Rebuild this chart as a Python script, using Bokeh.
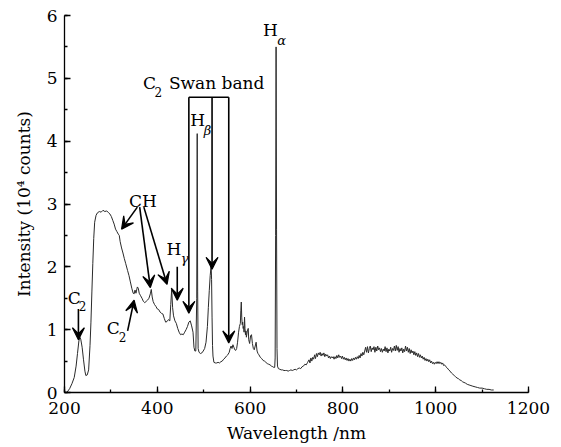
from bokeh.plotting import figure
from bokeh.models import Arrow, VeeHead, ColumnDataSource, SingleIntervalTicker
from bokeh.core.properties import value
from bokeh.embed import file_html
from bokeh.resources import INLINE

FONT = "DejaVu Serif"

# ---- spectrum data (wavelength nm, intensity 1e4 counts) ----
wavelength = [
    205, 211, 216, 221, 225, 228, 231, 233, 235, 238, 241, 244, 246, 249, 252, 255, 257, 259, 261, 263,
    265, 268, 271, 275, 279, 283, 287, 291, 295, 298, 301, 304, 307, 310, 313, 316, 318, 320, 323, 326,
    329, 332, 336, 339, 342, 345, 348, 350, 352, 354, 357, 359, 361, 364, 367, 370, 373, 376, 379, 382,
    385, 387, 389, 391, 394, 397, 400, 403, 406, 409, 412, 415, 418, 421, 424, 427, 429, 431, 433, 435,
    438, 441, 444, 447, 450, 453, 456, 459, 462, 465, 468, 471, 474, 477, 479, 481, 483, 485, 486, 487,
    488, 490, 493, 496, 499, 502, 505, 508, 510, 512, 514, 516, 517, 518, 519, 520, 522, 525, 528, 531,
    534, 537, 540, 543, 546, 549, 552, 555, 557, 559, 561, 563, 565, 567, 569, 571, 573, 575, 577, 579,
    580, 581, 582, 583, 584, 585, 586, 587, 588, 589, 590, 591, 592, 594, 596, 597, 599, 601, 603, 605,
    607, 609, 611, 613, 615, 617, 619, 622, 625, 628, 631, 634, 637, 640, 643, 646, 649, 651, 653, 654,
    655, 656, 657, 658, 659, 661, 664, 667, 670, 673, 676, 679, 682, 685, 688, 691, 694, 697, 700, 703,
    706, 709, 712, 715, 718, 721, 724, 727, 729, 731, 733, 735, 737, 739, 741, 743, 745, 747, 749, 751,
    753, 755, 757, 759, 761, 763, 765, 767, 769, 771, 773, 775, 777, 779, 781, 783, 785, 787, 789, 791,
    793, 795, 797, 799, 801, 803, 805, 807, 809, 811, 813, 815, 817, 819, 821, 823, 825, 827, 829, 831,
    833, 835, 837, 839, 841, 843, 845, 847, 849, 851, 853, 855, 857, 859, 861, 863, 865, 867, 869, 871,
    873, 875, 877, 879, 881, 883, 885, 887, 889, 891, 893, 895, 897, 899, 901, 903, 905, 907, 909, 911,
    913, 915, 917, 919, 921, 923, 925, 927, 929, 931, 933, 935, 937, 939, 941, 943, 945, 947, 949, 951,
    953, 955, 957, 959, 961, 963, 965, 967, 969, 971, 973, 975, 977, 979, 981, 983, 985, 987, 989, 991,
    993, 995, 997, 999, 1001, 1003, 1005, 1007, 1009, 1011, 1013, 1015, 1017, 1019, 1022, 1025, 1028, 1031, 1034, 1037,
    1040, 1043, 1046, 1049, 1052, 1055, 1058, 1061, 1064, 1068, 1072, 1076, 1080, 1085, 1090, 1095, 1100, 1105, 1110, 1115,
    1120, 1125,
]
intensity = [
    0.00, 0.06, 0.14, 0.24, 0.42, 0.62, 0.82, 0.88, 0.85, 0.72, 0.52, 0.34, 0.27, 0.28, 0.36, 0.75, 1.12, 1.60, 2.05, 2.45,
    2.71, 2.82, 2.86, 2.88, 2.87, 2.90, 2.88, 2.89, 2.86, 2.84, 2.80, 2.74, 2.68, 2.60, 2.56, 2.52, 2.50, 2.40, 2.30, 2.22,
    2.13, 2.05, 1.94, 1.86, 1.76, 1.66, 1.58, 1.57, 1.63, 1.58, 1.68, 1.66, 1.58, 1.54, 1.50, 1.45, 1.43, 1.45, 1.47, 1.50,
    1.57, 1.64, 1.52, 1.45, 1.40, 1.37, 1.33, 1.32, 1.28, 1.26, 1.25, 1.18, 1.12, 1.13, 1.16, 1.14, 1.40, 1.64, 1.35, 1.22,
    1.14, 1.10, 1.02, 0.96, 0.92, 0.93, 0.92, 0.96, 1.00, 1.05, 1.12, 1.14, 1.06, 0.96, 0.72, 0.66, 0.66, 1.50, 4.12, 1.60,
    0.70, 0.64, 0.62, 0.63, 0.66, 0.70, 0.80, 1.05, 1.35, 1.62, 1.86, 2.02, 1.80, 1.20, 0.75, 0.58, 0.48, 0.47, 0.47, 0.48,
    0.47, 0.49, 0.50, 0.53, 0.55, 0.58, 0.60, 0.64, 0.70, 0.74, 0.70, 0.76, 0.72, 0.68, 0.67, 0.70, 0.80, 0.95, 1.05, 1.10,
    1.30, 1.44, 1.20, 1.08, 1.12, 1.02, 1.05, 0.96, 1.20, 1.02, 0.92, 0.98, 0.88, 0.98, 1.02, 0.84, 0.78, 0.90, 0.92, 0.78,
    0.70, 0.68, 0.74, 0.80, 0.66, 0.62, 0.60, 0.56, 0.54, 0.51, 0.50, 0.48, 0.46, 0.45, 0.44, 0.42, 0.41, 0.40, 0.40, 0.55,
    2.50, 5.50, 2.60, 0.70, 0.42, 0.38, 0.37, 0.36, 0.36, 0.35, 0.35, 0.35, 0.34, 0.35, 0.36, 0.35, 0.36, 0.37, 0.36, 0.38,
    0.39, 0.38, 0.41, 0.42, 0.45, 0.44, 0.48, 0.52, 0.47, 0.55, 0.50, 0.56, 0.53, 0.60, 0.54, 0.62, 0.57, 0.63, 0.60, 0.64,
    0.58, 0.62, 0.59, 0.63, 0.57, 0.61, 0.58, 0.60, 0.55, 0.58, 0.54, 0.57, 0.55, 0.57, 0.53, 0.57, 0.54, 0.59, 0.55, 0.60,
    0.56, 0.58, 0.54, 0.58, 0.53, 0.56, 0.52, 0.55, 0.51, 0.54, 0.50, 0.53, 0.50, 0.54, 0.51, 0.55, 0.52, 0.56, 0.53, 0.57,
    0.54, 0.59, 0.55, 0.62, 0.58, 0.64, 0.60, 0.66, 0.72, 0.64, 0.73, 0.63, 0.70, 0.74, 0.65, 0.71, 0.68, 0.73, 0.64, 0.72,
    0.66, 0.74, 0.68, 0.71, 0.65, 0.70, 0.64, 0.69, 0.66, 0.73, 0.65, 0.71, 0.63, 0.69, 0.66, 0.72, 0.64, 0.70, 0.67, 0.74,
    0.66, 0.75, 0.67, 0.73, 0.64, 0.70, 0.66, 0.71, 0.63, 0.69, 0.65, 0.74, 0.66, 0.72, 0.64, 0.70, 0.62, 0.68, 0.63, 0.66,
    0.60, 0.65, 0.59, 0.63, 0.57, 0.62, 0.56, 0.60, 0.55, 0.58, 0.53, 0.56, 0.51, 0.54, 0.50, 0.53, 0.49, 0.52, 0.47, 0.50,
    0.46, 0.48, 0.45, 0.48, 0.46, 0.49, 0.46, 0.49, 0.46, 0.48, 0.45, 0.47, 0.43, 0.44, 0.41, 0.39, 0.36, 0.34, 0.31, 0.29,
    0.27, 0.25, 0.23, 0.22, 0.20, 0.19, 0.17, 0.16, 0.15, 0.13, 0.12, 0.11, 0.10, 0.09, 0.08, 0.07, 0.07, 0.06, 0.05, 0.05,
    0.04, 0.04,
]

# ---- annotation data ----
arrow_x0 = [230, 357, 362, 371, 336, 443, 468, 518, 554]
arrow_y0 = [1.33, 2.95, 2.95, 2.95, 0.98, 2.00, 4.70, 4.70, 4.70]
arrow_x1 = [230, 323, 385, 421, 350, 443, 468, 518, 554]
arrow_y1 = [0.84, 2.60, 1.67, 1.72, 1.47, 1.47, 1.26, 1.96, 0.79]

bracket_x = [468, 554]
bracket_y = [4.70, 4.70]

label_text = ["C", "C", "CH", "H", "H", "H", "C"]
label_x = [221, 305, 369, 436, 487, 644, 383]
label_y = [1.50, 1.02, 3.05, 2.29, 4.34, 5.77, 4.93]

digit_sub_text = ["2", "2", "2"]
digit_sub_x = [239, 325, 402]
digit_sub_y = [1.38, 0.88, 4.79]

greek_sub_text = ["γ", "β", "α"]
greek_sub_x = [459, 508, 668]
greek_sub_y = [2.14, 4.17, 5.61]

band_text = ["Swan band"]
band_x = [425]
band_y = [4.93]

p = figure(width=561, height=447, x_range=(200, 1200), y_range=(0, 6),
           output_backend="svg", toolbar_location=None,
           min_border_left=64, min_border_right=33, min_border_top=15, min_border_bottom=55)
p.outline_line_color = None
p.xgrid.visible = False
p.ygrid.visible = False
p.background_fill_color = "white"
p.border_fill_color = "white"

p.line(wavelength, intensity, line_color="#2a2a2a", line_width=1.0)

p.line(bracket_x, bracket_y, line_color="black", line_width=1.6)
arrow_src = ColumnDataSource(dict(x0=arrow_x0, y0=arrow_y0, x1=arrow_x1, y1=arrow_y1))
p.add_layout(Arrow(source=arrow_src, x_start="x0", y_start="y0", x_end="x1", y_end="y1",
                   line_color="black", line_width=1.6,
                   end=VeeHead(size=12, fill_color="black", line_color="black", line_width=1.2)))

p.text(label_x, label_y, text=label_text, text_font=value(FONT), text_font_size="17px",
       text_align="center", text_baseline="middle", text_color="black")
p.text(digit_sub_x, digit_sub_y, text=digit_sub_text, text_font=value(FONT), text_font_size="12px",
       text_align="center", text_baseline="middle", text_color="black")
p.text(greek_sub_x, greek_sub_y, text=greek_sub_text, text_font=value(FONT), text_font_size="13px",
       text_font_style="italic", text_align="center", text_baseline="middle", text_color="black")
p.text(band_x, band_y, text=band_text, text_font=value(FONT), text_font_size="17px",
       text_align="left", text_baseline="middle", text_color="black")

p.xaxis.ticker = SingleIntervalTicker(interval=200, num_minor_ticks=2)
p.yaxis.ticker = SingleIntervalTicker(interval=1, num_minor_ticks=2)
p.xaxis.axis_label = "Wavelength /nm"
p.yaxis.axis_label = "Intensity (10⁴ counts)"
for ax in (p.xaxis, p.yaxis):
    ax.axis_line_color = "black"
    ax.axis_line_width = 1.3
    ax.major_tick_line_color = "black"
    ax.minor_tick_line_color = "black"
    ax.major_tick_line_width = 1.3
    ax.minor_tick_line_width = 1.3
    ax.major_tick_in = 6
    ax.major_tick_out = 0
    ax.minor_tick_in = 3
    ax.minor_tick_out = 0
    ax.major_label_text_font = FONT
    ax.major_label_text_font_size = "17px"
    ax.major_label_text_color = "black"
    ax.axis_label_text_font = FONT
    ax.axis_label_text_font_size = "17px"
    ax.axis_label_text_font_style = "normal"
    ax.axis_label_text_color = "black"
p.xaxis.major_label_standoff = 9
p.xaxis.axis_label_standoff = 6
p.yaxis.major_label_standoff = 7
p.yaxis.axis_label_standoff = 10

open("out.html", "w").write(file_html(p, INLINE))
